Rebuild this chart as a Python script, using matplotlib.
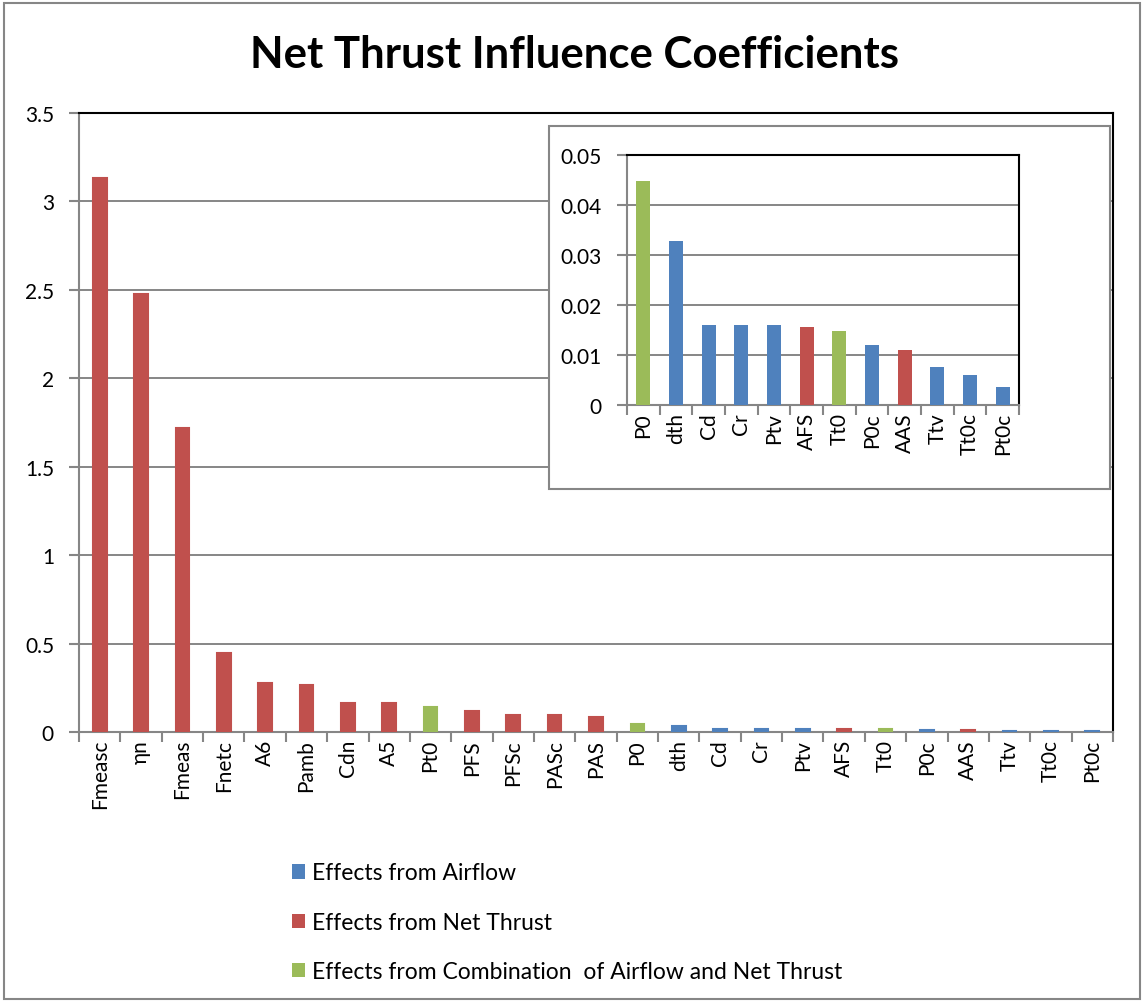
import matplotlib
matplotlib.use("Agg")
import matplotlib.pyplot as plt
from matplotlib.patches import Patch, Rectangle
from matplotlib.ticker import FixedLocator, MultipleLocator, FuncFormatter

plt.rcParams['font.family'] = ['Lato', 'DejaVu Sans']

# Chart data
categories = ['Fmeasc', 'ηn', 'Fmeas', 'Fnetc', 'A6', 'Pamb', 'Cdn', 'A5', 'Pt0',
              'PFS', 'PFSc', 'PASc', 'PAS', 'P0', 'dth', 'Cd', 'Cr', 'Ptv', 'AFS',
              'Tt0', 'P0c', 'AAS', 'Ttv', 'Tt0c', 'Pt0c']
values = [3.13, 2.476, 1.72, 0.444, 0.277, 0.266, 0.164, 0.164, 0.139,
          0.119, 0.098, 0.098, 0.085, 0.0449, 0.0328, 0.0161, 0.0161, 0.0161, 0.0157,
          0.0149, 0.0121, 0.0110, 0.0077, 0.0061, 0.0037]
# T = net thrust, A = airflow, C = combination
groups = ['T', 'T', 'T', 'T', 'T', 'T', 'T', 'T', 'C',
          'T', 'T', 'T', 'T', 'C', 'A', 'A', 'A', 'A', 'T',
          'C', 'A', 'T', 'A', 'A', 'A']
inset_start = 13

colors = {'A': '#4F81BD', 'T': '#C0504D', 'C': '#9BBB59'}
legend_labels = {'A': 'Effects from Airflow',
                 'T': 'Effects from Net Thrust',
                 'C': 'Effects from Combination  of Airflow and Net Thrust'}
grid_col = '#868686'

W, H = 1146, 1003
fig = plt.figure(figsize=(W / 100, H / 100), dpi=100)

# outer chart border
fig.add_artist(Rectangle((4 / W, 3 / H), 1136 / W, 996 / H, transform=fig.transFigure,
                         facecolor='none', edgecolor=grid_col, linewidth=1.5, zorder=0))


def style_axes(ax, cats, vals, grps, ymax, ystep, bar_w, fs, edge_lw):
    n = len(cats)
    x = list(range(n))
    cols = [colors[g] for g in grps]
    ax.bar(x, vals, width=bar_w, color=cols, edgecolor=cols, linewidth=edge_lw, zorder=3)
    ax.set_xlim(-0.5, n - 0.5)
    ax.set_ylim(0, ymax)
    ax.yaxis.set_major_locator(MultipleLocator(ystep))
    ax.yaxis.set_major_formatter(FuncFormatter(lambda v, p: '{:g}'.format(round(v, 4))))
    ax.grid(axis='y', color=grid_col, linewidth=1.4, zorder=0)
    ax.set_axisbelow(True)
    # tick marks sit between categories, labels at the centres
    ax.xaxis.set_major_locator(FixedLocator([i - 0.5 for i in range(n + 1)]))
    ax.xaxis.set_major_formatter(FuncFormatter(lambda v, p: ''))
    ax.xaxis.set_minor_locator(FixedLocator(x))
    ax.set_xticklabels(cats, minor=True)
    ax.tick_params(axis='x', which='major', length=7, width=1.5, color=grid_col, direction='out')
    ax.tick_params(axis='x', which='minor', length=0, labelsize=fs, labelrotation=90, pad=5)
    ax.tick_params(axis='y', length=7, width=1.5, color=grid_col, labelsize=fs, pad=11)
    for side in ['left', 'bottom']:
        ax.spines[side].set_color(grid_col)
        ax.spines[side].set_linewidth(1.5)
    for side in ['top', 'right']:
        ax.spines[side].set_color('black')
        ax.spines[side].set_linewidth(1.5)


# main chart
ax = fig.add_axes([79 / W, 1 - 733 / H, (1113 - 79) / W, (733 - 114) / H])
style_axes(ax, categories, values, groups, 3.5, 0.5, 0.33, 15, 1.5)

# inset frame
fig.add_artist(Rectangle((549 / W, 1 - 490 / H), (1110 - 549) / W, (490 - 127) / H,
                         transform=fig.transFigure, facecolor='white',
                         edgecolor=grid_col, linewidth=1.5, zorder=1))

# inset chart
ins = fig.add_axes([627 / W, 1 - 406 / H, (1019 - 627) / W, (406 - 156) / H])
ins.set_zorder(2)
style_axes(ins, categories[inset_start:], values[inset_start:], groups[inset_start:],
           0.05, 0.01, 0.43, 15, 0)

fig.text(575 / W, 1 - 55 / H, 'Net Thrust Influence Coefficients', ha='center', va='center',
         fontsize=31.5, fontweight='bold')

handles = [Patch(facecolor=colors[k], edgecolor='none') for k in ['A', 'T', 'C']]
fig.legend(handles, [legend_labels[k] for k in ['A', 'T', 'C']],
           loc='upper left', bbox_to_anchor=(281 / W, 1 - 852 / H), frameon=False,
           borderpad=0, fontsize=16.5, handlelength=0.55, handleheight=0.6,
           handletextpad=0.3, labelspacing=1.24)

fig.savefig('out.png', dpi=100)
